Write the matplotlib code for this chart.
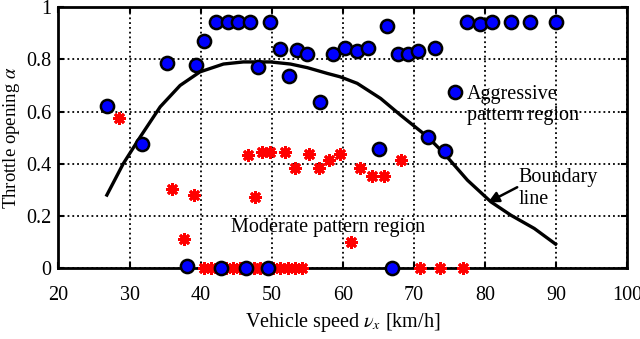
import matplotlib
matplotlib.use('Agg')
import matplotlib.pyplot as plt

plt.rcParams['font.family'] = ['Liberation Serif', 'DejaVu Serif']
plt.rcParams['mathtext.fontset'] = 'stix'

# aggressive pattern points (blue circles)
aggr_x = [26.8, 31.7, 35.2, 39.3, 40.5, 42.1, 43.8, 45.2, 46.9, 49.8, 48.1, 51.2, 52.4,
          53.6, 55.0, 56.7, 58.6, 60.3, 62.0, 63.5, 66.2, 67.7, 69.2, 70.6, 73.0,
          77.5, 79.3, 81.0, 83.6, 86.3, 89.9, 71.9, 74.3, 65.0,
          38.0, 42.8, 46.3, 49.4, 66.9]
aggr_y = [0.62, 0.475, 0.787, 0.778, 0.872, 0.943, 0.943, 0.943, 0.943, 0.943, 0.770, 0.840, 0.738,
          0.835, 0.82, 0.637, 0.819, 0.842, 0.833, 0.842, 0.927, 0.819, 0.819, 0.833, 0.842,
          0.944, 0.935, 0.944, 0.944, 0.944, 0.944, 0.503, 0.448, 0.455,
          0.01, 0.0, 0.0, 0.0, 0.0]

# moderate pattern points (red asterisks)
mod_x = [28.5, 35.9, 39.0, 37.7, 46.7, 48.6, 49.7, 51.8, 53.2, 55.2, 56.6, 58.0, 59.6,
         47.6, 61.1, 62.4, 64.1, 65.7, 68.1,
         40.5, 41.5, 42.5, 43.5, 44.5, 45.5, 46.5, 47.5, 48.3, 49.2, 50.2, 51.2, 52.2,
         53.2, 54.3, 70.9, 73.7, 76.9]
mod_y = [0.574, 0.305, 0.282, 0.112, 0.433, 0.446, 0.446, 0.446, 0.382, 0.439, 0.382, 0.414, 0.439,
         0.274, 0.101, 0.382, 0.352, 0.352, 0.414,
         0, 0, 0, 0, 0, 0, 0, 0, 0, 0, 0, 0, 0,
         0, 0, 0, 0, 0]

# boundary line
bnd_x = [26.8, 29.1, 31.5, 34.3, 37.1, 39.9, 43.2, 46.0, 49.8, 52.6, 55.0, 57.8,
         59.6, 62.0, 65.3, 68.1, 71.9, 74.2, 77.5, 80.8, 83.6, 86.9, 89.9]
bnd_y = [0.28, 0.40, 0.503, 0.618, 0.70, 0.752, 0.782, 0.79, 0.79, 0.782, 0.768, 0.746,
         0.733, 0.708, 0.65, 0.586, 0.503, 0.44, 0.337, 0.254, 0.203, 0.152, 0.092]

xticks = [20, 30, 40, 50, 60, 70, 80, 90, 100]
yticks = [0, 0.2, 0.4, 0.6, 0.8, 1]
ytick_labels = ['0', '0.2', '0.4', '0.6', '0.8', '1']

fig = plt.figure(figsize=(6.4, 3.39), dpi=100)
ax = fig.add_axes([0.0914, 0.209, 0.889, 0.770])

ax.plot(bnd_x, bnd_y, color='black', lw=2.4, zorder=3, solid_joinstyle='round')
ax.plot(mod_x, mod_y, ls='none', marker=(8, 2, 0), ms=9, mew=2.0, color='red', zorder=4,
        clip_on=False)
ax.plot(aggr_x, aggr_y, ls='none', marker='o', ms=9.5, mfc='#0000ff', mec='black', mew=1.8,
        zorder=5, clip_on=False)

# label marker for aggressive region
ax.plot([75.7], [0.675], ls='none', marker='o', ms=9.5, mfc='#0000ff', mec='black', mew=1.8, zorder=5)
ax.text(77.4, 0.625, 'Aggressive\npattern region', fontsize=14.5, va='center', ha='left',
        linespacing=1.15, zorder=6)
ax.text(44.2, 0.157, 'Moderate pattern region', fontsize=14.5, va='center', ha='left', zorder=6)
ax.text(84.7, 0.305, 'Boundary\nline', fontsize=14.5, va='center', ha='left', linespacing=1.15, zorder=6)
ax.annotate('', xy=(80.4, 0.252), xytext=(84.5, 0.31),
            arrowprops=dict(arrowstyle='-|>', color='black', lw=1.8, mutation_scale=16,
                            fc='black', shrinkA=0, shrinkB=0), zorder=6)

ax.set_xlim(20, 100)
ax.set_ylim(0, 1)
ax.set_xticks(xticks)
ax.set_yticks(yticks)
ax.set_yticklabels(ytick_labels)
ax.tick_params(direction='in', labelsize=14.5, width=1.5, length=4, top=True, right=True)
ax.tick_params(axis='x', pad=13)
ax.tick_params(axis='y', pad=5)
ax.grid(True, color='black', ls=':', lw=1.3)
for s in ax.spines.values():
    s.set_linewidth(2.0)

ax.set_xlabel(r'Vehicle speed $\nu_x$ [km/h]', fontsize=14.5, labelpad=4)
ax.set_ylabel(r'Throttle opening $\alpha$', fontsize=13.5, labelpad=3)

fig.savefig('out.png', dpi=100)
